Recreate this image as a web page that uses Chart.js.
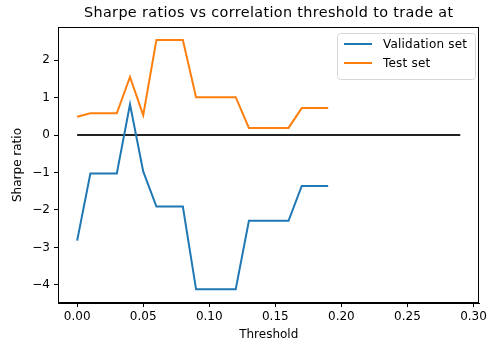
<!DOCTYPE html>
<html>
<head>
<meta charset="utf-8">
<script src="https://cdn.jsdelivr.net/npm/chart.js@4"></script>
<style>
  html, body { margin: 0; padding: 0; background: #fff; }
  #wrap { width: 490px; height: 347px; }
</style>
</head>
<body>
<div id="wrap"><canvas id="c" width="490" height="347"></canvas></div>
<script>
const thresholds = [0.00, 0.01, 0.02, 0.03, 0.04, 0.05, 0.06, 0.07, 0.08, 0.09, 0.10, 0.11, 0.12, 0.13, 0.14, 0.15, 0.16, 0.17, 0.18, 0.19];
const validation = [-2.82, -1.03, -1.03, -1.03, 0.82, -0.97, -1.91, -1.91, -1.91, -4.12, -4.12, -4.12, -4.12, -2.29, -2.29, -2.29, -2.29, -1.36, -1.36, -1.36];
const testSet = [0.49, 0.58, 0.58, 0.58, 1.55, 0.53, 2.54, 2.54, 2.54, 1.01, 1.01, 1.01, 1.01, 0.19, 0.19, 0.19, 0.19, 0.72, 0.72, 0.72];
const zeroLineX = [0.00, 0.29];
const zeroLineY = [0, 0];
const xTicks = [0.00, 0.05, 0.10, 0.15, 0.20, 0.25, 0.30];
const yTicks = [-4, -3, -2, -1, 0, 1, 2];
const seriesNames = ['Validation set', 'Test set'];
const titleText = 'Sharpe ratios vs correlation threshold to trade at';

const BLUE = '#1f77b4', ORANGE = '#ff7f0e';
const FONT = "'DejaVu Sans', sans-serif";

const toPts = (xs, ys) => xs.map((x, i) => ({x: x, y: ys[i]}));

const decor = {
  id: 'decor',
  afterDraw(chart) {
    const {ctx, chartArea: a} = chart;
    ctx.save();
    // frame
    ctx.strokeStyle = '#000';
    ctx.lineWidth = 1;
    ctx.strokeRect(Math.round(a.left) + 0.5, Math.round(a.top) + 0.5,
                   Math.round(a.right - a.left) - 1, Math.round(a.bottom - a.top) - 1);
    // title
    ctx.fillStyle = '#000';
    ctx.font = '14.4px ' + FONT;
    if ('letterSpacing' in ctx) ctx.letterSpacing = '0.35px';
    ctx.textAlign = 'center';
    ctx.textBaseline = 'middle';
    ctx.fillText(titleText, (a.left + a.right) / 2, 13);
    if ('letterSpacing' in ctx) ctx.letterSpacing = '0.2px';
    // legend
    const bx = 337.5, by = 33.5, bw = 138, bh = 46, r = 3;
    ctx.beginPath();
    ctx.moveTo(bx + r, by);
    ctx.arcTo(bx + bw, by, bx + bw, by + bh, r);
    ctx.arcTo(bx + bw, by + bh, bx, by + bh, r);
    ctx.arcTo(bx, by + bh, bx, by, r);
    ctx.arcTo(bx, by, bx + bw, by, r);
    ctx.closePath();
    ctx.fillStyle = 'rgba(255,255,255,0.8)';
    ctx.fill();
    ctx.strokeStyle = '#d6d6d6';
    ctx.lineWidth = 1;
    ctx.stroke();
    const cols = [BLUE, ORANGE];
    const ys = [44, 63];
    ctx.font = '12px ' + FONT;
    ctx.textAlign = 'left';
    ctx.textBaseline = 'middle';
    for (let i = 0; i < 2; i++) {
      ctx.beginPath();
      ctx.strokeStyle = cols[i];
      ctx.lineWidth = 2;
      ctx.moveTo(344, ys[i]);
      ctx.lineTo(372, ys[i]);
      ctx.stroke();
      ctx.fillStyle = '#000';
      ctx.fillText(seriesNames[i], 383, ys[i] + 0.5);
    }
    ctx.restore();
  }
};

new Chart(document.getElementById('c'), {
  type: 'line',
  data: {
    datasets: [
      {label: seriesNames[0], data: toPts(thresholds, validation), borderColor: BLUE, borderWidth: 2, pointRadius: 0, tension: 0, fill: false},
      {label: seriesNames[1], data: toPts(thresholds, testSet), borderColor: ORANGE, borderWidth: 2, pointRadius: 0, tension: 0, fill: false},
      {label: 'zero', data: toPts(zeroLineX, zeroLineY), borderColor: '#222', borderWidth: 2, pointRadius: 0, tension: 0, fill: false}
    ]
  },
  options: {
    responsive: false,
    animation: false,
    events: [],
    layout: {padding: {top: 27, right: 10, left: 0, bottom: 0}},
    plugins: {legend: {display: false}, title: {display: false}, tooltip: {enabled: false}},
    scales: {
      x: {
        type: 'linear',
        min: -0.0145, max: 0.3045,
        afterBuildTicks: s => { s.ticks = xTicks.map(v => ({value: v})); },
        afterFit: s => { s.height = 44; },
        grid: {drawOnChartArea: false, drawTicks: true, tickLength: 4, color: '#000', tickWidth: 1},
        border: {display: true, color: '#000', width: 1},
        ticks: {padding: 3, color: '#000', font: {family: FONT, size: 12}, maxRotation: 0,
                callback: v => v.toFixed(2)},
        title: {display: true, text: 'Threshold', color: '#000', font: {family: FONT, size: 12}, padding: {top: 0, bottom: 5}}
      },
      y: {
        type: 'linear',
        min: -4.485, max: 2.885,
        afterBuildTicks: s => { s.ticks = yTicks.map(v => ({value: v})); },
        afterFit: s => { s.width = 58; },
        grid: {drawOnChartArea: false, drawTicks: true, tickLength: 4, color: '#000', tickWidth: 1},
        border: {display: true, color: '#000', width: 1},
        ticks: {padding: 4, color: '#000', font: {family: FONT, size: 12},
                callback: v => v < 0 ? '\u2212' + Math.abs(v) : String(v)},
        title: {display: true, text: 'Sharpe ratio', color: '#000', font: {family: FONT, size: 12}, padding: {top: 11, bottom: 0}}
      }
    }
  },
  plugins: [decor]
});
</script>
</body>
</html>
